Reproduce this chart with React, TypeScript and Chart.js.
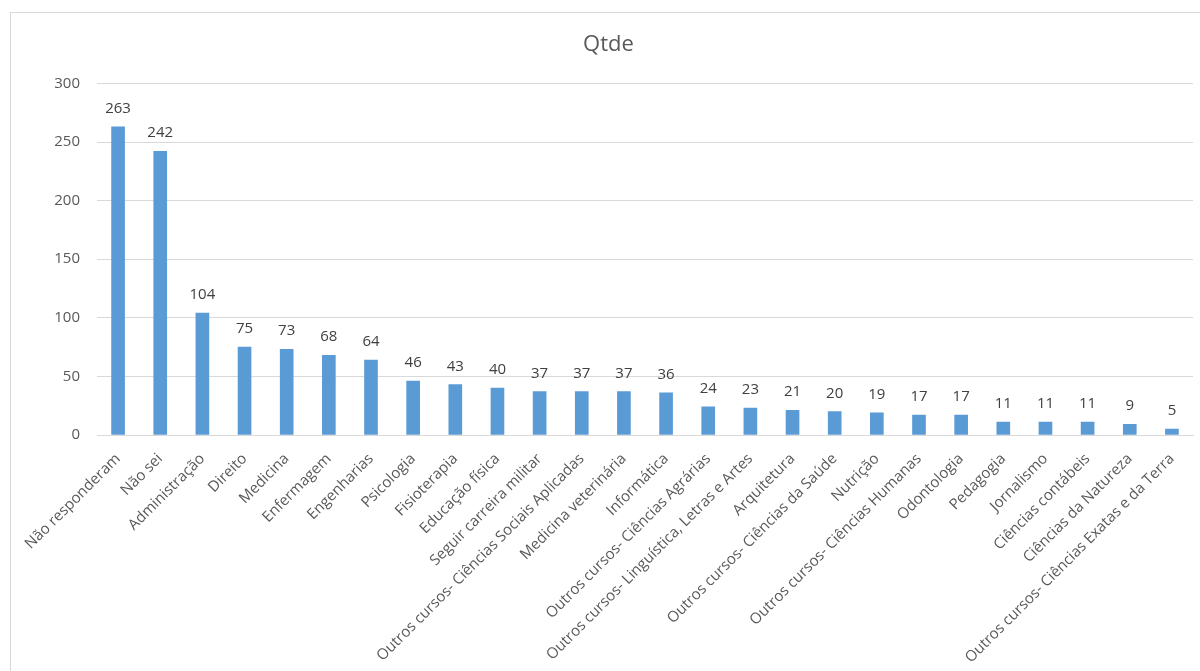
import React, { useEffect, useRef } from "react";
import { Chart, registerables } from "chart.js";

Chart.register(...registerables);

const categories: string[] = [
  "Não responderam",
  "Não sei",
  "Administração",
  "Direito",
  "Medicina",
  "Enfermagem",
  "Engenharias",
  "Psicologia",
  "Fisioterapia",
  "Educação física",
  "Seguir carreira militar",
  "Outros cursos- Ciências Sociais Aplicadas",
  "Medicina veterinária",
  "Informática",
  "Outros cursos- Ciências Agrárias",
  "Outros cursos- Linguística, Letras e Artes",
  "Arquitetura",
  "Outros cursos- Ciências da Saúde",
  "Nutrição",
  "Outros cursos- Ciências Humanas",
  "Odontologia",
  "Pedagogia",
  "Jornalismo",
  "Ciências contábeis",
  "Ciências da Natureza",
  "Outros cursos- Ciências Exatas e da Terra",
];

const qtde: number[] = [
  263, 242, 104, 75, 73, 68, 64, 46, 43, 40, 37, 37, 37, 36, 24, 23, 21, 20, 19,
  17, 17, 11, 11, 11, 9, 5,
];

const yMin = 0;
const yMax = 300;
const yStep = 50;

const FONT = "'Open Sans', 'Noto Sans', sans-serif";

const valueLabels = {
  id: "valueLabels",
  afterDatasetsDraw(chart: any) {
    const ctx = chart.ctx;
    const meta = chart.getDatasetMeta(0);
    ctx.save();
    ctx.font = `15px ${FONT}`;
    ctx.fillStyle = "#404040";
    ctx.textAlign = "center";
    ctx.textBaseline = "alphabetic";
    meta.data.forEach((bar: any, i: number) => {
      const v = chart.data.datasets[0].data[i];
      ctx.fillText(String(v), bar.x, bar.y - 14);
    });
    ctx.restore();
  },
};

export default function App() {
  const canvasRef = useRef<HTMLCanvasElement | null>(null);

  useEffect(() => {
    document.body.style.margin = "0";
    const canvas = canvasRef.current;
    if (!canvas) return;
    const chart = new Chart(canvas, {
      type: "bar",
      data: {
        labels: categories,
        datasets: [
          {
            label: "Qtde",
            data: qtde,
            backgroundColor: "#5b9bd5",
            borderWidth: 0,
            barThickness: 13,
          },
        ],
      },
      options: {
        animation: false,
        responsive: false,
        maintainAspectRatio: false,
        layout: { padding: { left: 24, right: 7, top: 0, bottom: 0 } },
        plugins: {
          legend: { display: false },
          tooltip: { enabled: false },
          title: {
            display: true,
            text: "Qtde",
            color: "#595959",
            font: { family: FONT, size: 22, weight: "normal" },
            padding: { top: 32, bottom: 25 },
          },
        },
        scales: {
          x: {
            grid: { display: false, drawTicks: false },
            border: { display: true, color: "#d9d9d9", width: 1 },
            ticks: {
              color: "#595959",
              font: { family: FONT, size: 15 },
              minRotation: 45,
              maxRotation: 45,
              autoSkip: false,
              padding: 15,
            },
            afterFit(scale: any) {
              scale.height = 236;
            },
          },
          y: {
            min: yMin,
            max: yMax,
            grid: { color: "#d9d9d9", drawTicks: false },
            border: { display: false },
            ticks: {
              stepSize: yStep,
              color: "#595959",
              font: { family: FONT, size: 15 },
              padding: 17,
            },
            afterFit(scale: any) {
              scale.width = 73;
            },
          },
        },
      },
      plugins: [valueLabels],
    });
    return () => chart.destroy();
  }, []);

  return (
    <div
      style={{
        position: "relative",
        width: 1200,
        height: 671,
        overflow: "hidden",
        background: "#ffffff",
      }}
    >
      <div
        style={{
          position: "absolute",
          left: 10,
          top: 12,
          width: 1300,
          height: 800,
          border: "1px solid #d9d9d9",
        }}
      />
      <canvas
        ref={canvasRef}
        width={1200}
        height={671}
        style={{ position: "absolute", left: 0, top: 0, width: 1200, height: 671 }}
      />
    </div>
  );
}
